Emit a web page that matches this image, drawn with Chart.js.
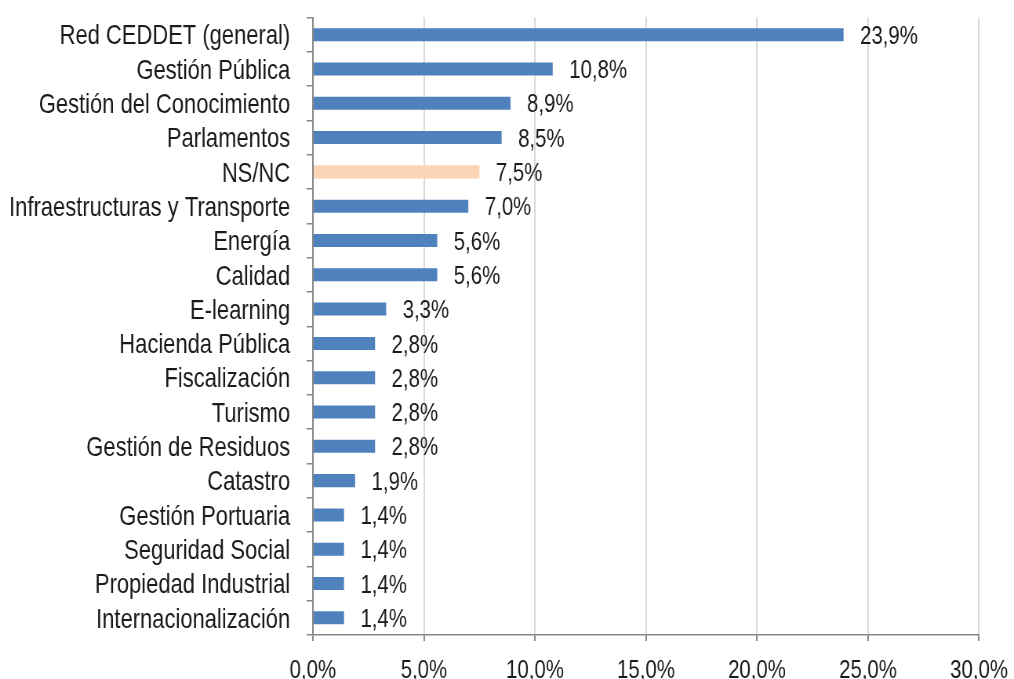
<!DOCTYPE html>
<html><head><meta charset="utf-8">
<script src="https://cdn.jsdelivr.net/npm/chart.js@4"></script>
<style>
html,body{margin:0;padding:0;background:#fff;overflow:hidden}
#w{width:1293px;height:679px;transform:scaleX(0.78422);transform-origin:0 0}
</style>
</head><body><div id="w"><canvas id="c"></canvas></div>
<script>
const categories = ["Red CEDDET (general)","Gestión Pública","Gestión del Conocimiento","Parlamentos","NS/NC","Infraestructuras y Transporte","Energía","Calidad","E-learning","Hacienda Pública","Fiscalización","Turismo","Gestión de Residuos","Catastro","Gestión Portuaria","Seguridad Social","Propiedad Industrial","Internacionalización"];
const values = [23.9,10.8,8.9,8.5,7.5,7.0,5.6,5.6,3.3,2.8,2.8,2.8,2.8,1.9,1.4,1.4,1.4,1.4];
const highlight = "NS/NC";
const xTicks = [0,5,10,15,20,25,30];

// the chart is laid out in a wider space and narrowed horizontally (condensed type, like Arial Narrow)
const FONT = "'Liberation Sans',Arial,sans-serif";
const fmt = v => v.toFixed(1).replace('.', ',') + '%';

const labelPlugin = {
  id: 'vals',
  afterDatasetsDraw(chart) {
    const ctx = chart.ctx;
    const meta = chart.getDatasetMeta(0);
    ctx.save();
    ctx.font = "26px " + FONT;
    ctx.fillStyle = '#1a1a1a';
    ctx.textAlign = 'left';
    ctx.textBaseline = 'middle';
    meta.data.forEach((bar, i) => {
      ctx.fillText(fmt(values[i]), bar.x + 21, bar.y + 2);
    });
    ctx.restore();
  }
};

new Chart(document.getElementById('c'), {
  type: 'bar',
  data: {
    labels: categories,
    datasets: [{
      data: values,
      backgroundColor: categories.map(c => c === highlight ? '#fbd5b5' : '#4f81bd'),
      borderWidth: 0,
      barPercentage: 0.38,
      categoryPercentage: 1
    }]
  },
  options: {
    responsive: true,
    maintainAspectRatio: false,
    animation: false,
    indexAxis: 'y',
    devicePixelRatio: 1,
    layout: { padding: { top: 17.5, right: 44.6, bottom: 0, left: 0 } },
    plugins: { legend: { display: false }, tooltip: { enabled: false } },
    scales: {
      x: {
        min: 0, max: 30,
        afterBuildTicks: s => { s.ticks = xTicks.map(v => ({ value: v })); },
        afterFit: s => { s.height = 44; s.paddingLeft = 0; s.paddingRight = 0; },
        ticks: { callback: v => fmt(v), font: { size: 26, family: FONT }, color: '#1a1a1a', padding: 14, maxRotation: 0 },
        grid: { color: '#d9d9d9', lineWidth: 2, tickColor: '#868686', tickLength: 6 },
        border: { display: true, color: '#868686', width: 1.5 }
      },
      y: {
        afterFit: s => { s.width = 399; s.paddingTop = 0; s.paddingBottom = 0; },
        ticks: { font: { size: 28, family: FONT }, color: '#1a1a1a', padding: 21, autoSkip: false, labelOffset: 2 },
        grid: { offset: true, drawOnChartArea: false, tickColor: '#868686', tickLength: 8, lineWidth: 1.5 },
        border: { display: true, color: '#868686', width: 2 }
      }
    }
  },
  plugins: [labelPlugin]
});
</script></body></html>
